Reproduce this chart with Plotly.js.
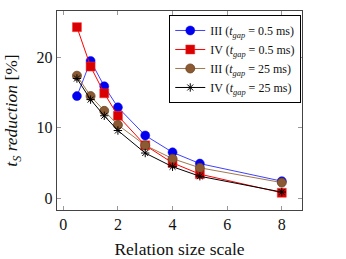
<!DOCTYPE html>
<html><head><meta charset="utf-8">
<script src="https://cdn.plot.ly/plotly-3.0.1.min.js"></script>
<style>body{margin:0;padding:0;background:#fff}#chart{width:346px;height:259px}</style>
</head><body><div id="chart"></div>
<script>
const scales = [0.5, 1, 1.5, 2, 3, 4, 5, 8];
const blueIII05 = [14.5, 19.5, 15.9, 12.9, 8.9, 6.5, 4.9, 2.4];
const redIV05 = [24.3, 18.7, 14.9, 11.7, 7.5, 5.0, 3.4, 0.75];
const brownIII25 = [17.4, 14.5, 12.4, 10.4, 7.5, 5.6, 4.3, 2.2];
const blackIV25 = [17.0, 14.0, 11.7, 9.6, 6.4, 4.45, 3.1, 0.85];
const names = [
  'III (<i>t<sub>gap</sub></i> = 0.5 ms)',
  'IV (<i>t<sub>gap</sub></i> = 0.5 ms)',
  'III (<i>t<sub>gap</sub></i> = 25 ms)',
  'IV (<i>t<sub>gap</sub></i> = 25 ms)'
];
const xTicks = [0, 2, 4, 6, 8];
const yTicks = [0, 10, 20];

const traces = [
  {x: scales, y: blueIII05, name: names[0], mode: 'lines+markers',
   line: {color: '#4040ff', width: 1}, marker: {symbol: 'circle', size: 9, color: '#0000ee', line: {color: '#0000ff', width: 0.5}}},
  {x: scales, y: redIV05, name: names[1], mode: 'lines+markers',
   line: {color: '#ff0000', width: 1}, marker: {symbol: 'square', size: 9, color: '#d80000', line: {color: '#ff3030', width: 0.5}}},
  {x: scales, y: brownIII25, name: names[2], mode: 'lines+markers',
   line: {color: '#a07850', width: 1}, marker: {symbol: 'circle', size: 9, color: '#8c5a32', line: {color: '#6b4423', width: 0.8}}},
  {x: scales, y: blackIV25, name: names[3], mode: 'lines+markers',
   line: {color: '#000000', width: 1}, marker: {symbol: 'asterisk-open', size: 7, color: '#000000', line: {color: '#000000', width: 1}}}
];

const axisCommon = {
  showgrid: false, zeroline: false, showline: true, mirror: 'allticks',
  linecolor: '#444', linewidth: 1.2, ticks: 'inside', ticklen: 4, tickcolor: '#999', tickwidth: 1,
  tickfont: {family: 'Liberation Serif, serif', size: 16, color: '#111'}
};

const layout = {
  width: 346, height: 259,
  margin: {l: 57, r: 44, t: 11, b: 49},
  paper_bgcolor: '#fff', plot_bgcolor: '#fff',
  showlegend: true,
  xaxis: Object.assign({}, axisCommon, {
    range: [-0.23, 8.74], tickvals: xTicks, ticktext: xTicks.map(String),
    title: {text: 'Relation size scale', font: {family: 'Liberation Serif, serif', size: 17.5, color: '#111'}, standoff: 10}
  }),
  yaxis: Object.assign({}, axisCommon, {
    range: [-1.7, 26.6], tickvals: yTicks, ticktext: yTicks.map(String),
    title: {text: '<i>t<sub>S</sub> reduction</i> [%]', font: {family: 'Liberation Serif, serif', size: 17.5, color: '#111'}, standoff: 14}
  }),
  legend: {
    x: 0.997, y: 0.98, xanchor: 'right', yanchor: 'top',
    bgcolor: '#fff', bordercolor: '#000', borderwidth: 1,
    font: {family: 'Liberation Serif, serif', size: 12, color: '#111'},
    tracegroupgap: 0, itemwidth: 30
  }
};

Plotly.newPlot('chart', traces, layout, {displayModeBar: false, staticPlot: true});
</script>
</body></html>
